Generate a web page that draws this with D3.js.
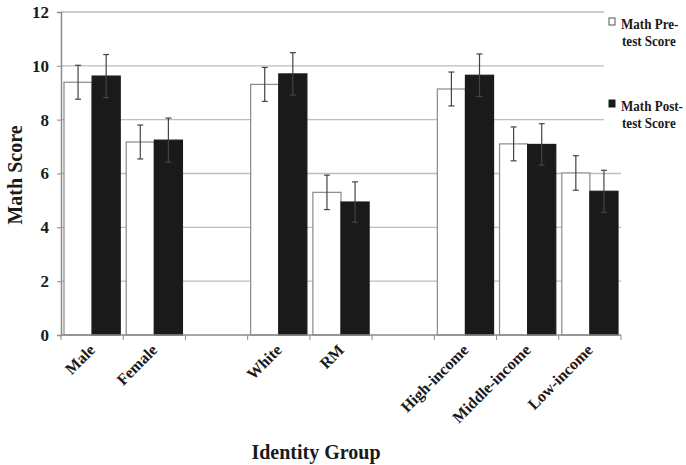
<!DOCTYPE html>
<html>
<head>
<meta charset="utf-8">
<script src="https://cdn.jsdelivr.net/npm/d3@7"></script>
<style>
  body { margin: 0; background: #fff; }
  svg { display: block; }
  text { font-family: "Liberation Serif", "Times New Roman", serif; font-weight: bold; fill: #1a1a1a; }
</style>
</head>
<body>
<svg id="Vis" width="686" height="465"></svg>
<script>
// slots along the x axis ("" and " " are the empty spacer slots)
const slots = ["Male", "Female", "", "White", "RM", " ", "High-income", "Middle-income", "Low-income"];
const groups = ["Male", "Female", "White", "RM", "High-income", "Middle-income", "Low-income"];
const series = ["Math Pre-test Score", "Math Post-test Score"];
const preScore  = [9.39, 7.17, 9.31, 5.30, 9.14, 7.10, 6.02];
const preErr    = [0.63, 0.63, 0.63, 0.64, 0.63, 0.63, 0.64];
const postScore = [9.62, 7.24, 9.70, 4.94, 9.65, 7.08, 5.34];
const postErr   = [0.80, 0.82, 0.79, 0.75, 0.79, 0.77, 0.78];
const yTicks = [0, 2, 4, 6, 8, 10, 12];

const svg = d3.select("svg#Vis");

const plotBox = {left: 61, right: 621, top: 12, bottom: 335};

const x = d3.scaleBand().domain(slots).range([plotBox.left, plotBox.right]).padding(0);
const xInner = d3.scaleBand().domain(["pre", "post"]).range([3, x.bandwidth() - 3]);
const y = d3.scaleLinear().domain([0, 12]).range([plotBox.bottom, plotBox.top]);

const rows = groups.map((g, i) => ({
  group: g,
  bars: [
    {key: "pre", value: preScore[i], err: preErr[i]},
    {key: "post", value: postScore[i], err: postErr[i]}
  ]
}));

/* GRIDLINES */
svg.append("g").attr("id", "grid")
  .selectAll("line")
  .data(yTicks.filter(d => d > 0))
  .enter()
  .append("line")
    .attr("x1", plotBox.left).attr("x2", plotBox.right)
    .attr("y1", d => y(d)).attr("y2", d => y(d))
    .attr("stroke", "#bdbdbd")
    .attr("stroke-width", 1.3);

/* BARS */
const barGroups = svg.append("g").attr("id", "bars")
  .selectAll("g")
  .data(rows)
  .enter()
  .append("g")
    .attr("transform", d => translate(x(d.group), 0));

barGroups.selectAll("rect")
  .data(d => d.bars)
  .enter()
  .append("rect")
    .attr("x", d => xInner(d.key))
    .attr("y", d => y(d.value))
    .attr("width", xInner.bandwidth())
    .attr("height", d => plotBox.bottom - y(d.value))
    .attr("fill", d => d.key === "pre" ? "#ffffff" : "#1a1a1a")
    .attr("stroke", d => d.key === "pre" ? "#8a8a8a" : "#1a1a1a")
    .attr("stroke-width", 1.2);

/* ERROR BARS */
const errs = barGroups.selectAll("g.err")
  .data(d => d.bars)
  .enter()
  .append("g")
    .attr("class", "err")
    .attr("stroke", "#444")
    .attr("stroke-width", 1.2);

const cx = d => xInner(d.key) + xInner.bandwidth() / 2;
errs.append("line")
  .attr("x1", cx).attr("x2", cx)
  .attr("y1", d => y(d.value + d.err)).attr("y2", d => y(d.value - d.err));
errs.append("line")
  .attr("x1", d => cx(d) - 3).attr("x2", d => cx(d) + 3)
  .attr("y1", d => y(d.value + d.err)).attr("y2", d => y(d.value + d.err));
errs.append("line")
  .attr("x1", d => cx(d) - 3).attr("x2", d => cx(d) + 3)
  .attr("y1", d => y(d.value - d.err)).attr("y2", d => y(d.value - d.err));

/* AXES */
const yAxis = d3.axisLeft(y).tickValues(yTicks).tickSize(4).tickPadding(8);
const yGroup = svg.append("g").attr("id", "y-axis")
  .attr("transform", translate(plotBox.left, 0))
  .call(yAxis);
yGroup.attr("font-family", null).attr("font-size", null);
yGroup.select(".domain").attr("stroke", "#8a8a8a").attr("stroke-width", 1.5);
yGroup.selectAll(".tick line").attr("stroke", "#8a8a8a");
yGroup.selectAll(".tick text")
  .style("font-size", "17px")
  .attr("fill", "#1a1a1a");

const xGroup = svg.append("g").attr("id", "x-axis");
xGroup.append("line")
  .attr("x1", plotBox.left).attr("x2", plotBox.right)
  .attr("y1", plotBox.bottom).attr("y2", plotBox.bottom)
  .attr("stroke", "#8a8a8a").attr("stroke-width", 1.5);
xGroup.selectAll("line.tick")
  .data(slots.map(s => x(s)).concat([plotBox.right]))
  .enter()
  .append("line")
    .attr("class", "tick")
    .attr("x1", d => d).attr("x2", d => d)
    .attr("y1", plotBox.bottom).attr("y2", plotBox.bottom + 5)
    .attr("stroke", "#8a8a8a");

xGroup.selectAll("text")
  .data(groups)
  .enter()
  .append("text")
    .attr("transform", d => translate(x(d) + x.bandwidth() / 2 + 4, plotBox.bottom + 16) + " rotate(-45)")
    .attr("text-anchor", "end")
    .style("font-size", "16px")
    .text(d => d);

/* TITLES */
svg.append("text")
  .attr("transform", translate(22, 175) + " rotate(-90)")
  .attr("text-anchor", "middle")
  .style("font-size", "20px")
  .text("Math Score");

svg.append("text")
  .attr("x", 316).attr("y", 459)
  .attr("text-anchor", "middle")
  .style("font-size", "20px")
  .text("Identity Group");

/* LEGEND */
const legend = svg.append("g").attr("id", "legend");
legend.append("rect")
  .attr("x", 604).attr("y", 0).attr("width", 82).attr("height", 150)
  .attr("fill", "#fff");

const legendItems = legend.selectAll("g.item")
  .data(series)
  .enter()
  .append("g")
    .attr("class", "item")
    .attr("transform", (d, i) => translate(609, i === 0 ? 18 : 100));

legendItems.append("rect")
  .attr("x", 0).attr("y", 0).attr("width", 6).attr("height", 7)
  .attr("fill", (d, i) => i === 0 ? "#fff" : "#1a1a1a")
  .attr("stroke", (d, i) => i === 0 ? "#555" : "#1a1a1a")
  .attr("stroke-width", 1);

// legend text is a bit condensed in the original
legendItems.append("text")
  .attr("transform", translate(12, 11) + " scale(0.87,1)")
  .style("font-size", "15px")
  .text(d => d.split("-")[0] + "-");
legendItems.append("text")
  .attr("transform", translate(13, 28) + " scale(0.87,1)")
  .style("font-size", "15px")
  .text(d => d.split("-")[1]);

function translate(x, y) {
  return 'translate(' + String(x) + ',' + String(y) + ')';
}
</script>
</body>
</html>
